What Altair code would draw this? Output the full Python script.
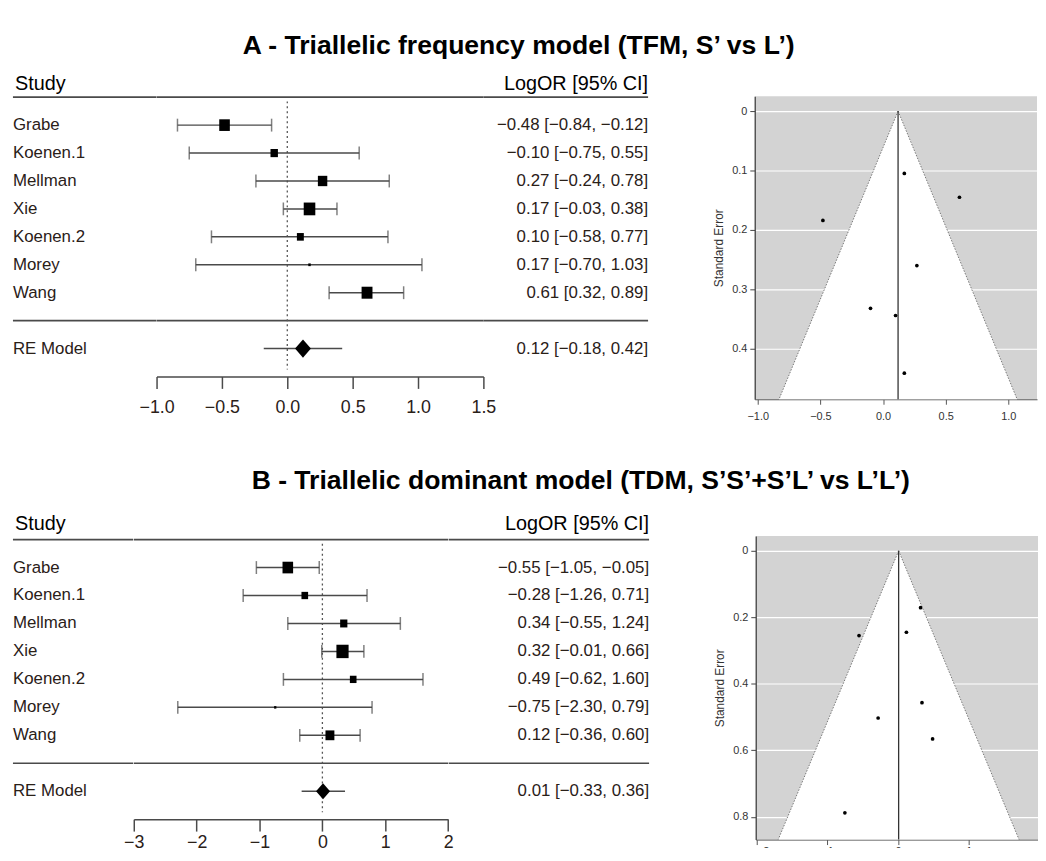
import altair as alt
import pandas as pd

FONT = "Liberation Sans"
TXT = "#2a2018"
LINE = "#4a4a4a"

studies = ["Grabe", "Koenen.1", "Mellman", "Xie", "Koenen.2", "Morey", "Wang"]

# Panel A - TFM
a_est = [-0.48, -0.10, 0.27, 0.17, 0.10, 0.17, 0.61]
a_lo = [-0.84, -0.75, -0.24, -0.03, -0.58, -0.70, 0.32]
a_hi = [-0.12, 0.55, 0.78, 0.38, 0.77, 1.03, 0.89]
a_se = [0.184, 0.332, 0.260, 0.105, 0.344, 0.441, 0.145]
a_weight = [10.7, 7.5, 9.5, 11.7, 7.0, 2.5, 11.0]
a_re = [0.12, -0.18, 0.42]
a_ticks = [-1.0, -0.5, 0.0, 0.5, 1.0, 1.5]
a_funnel_xticks = [-1.0, -0.5, 0.0, 0.5, 1.0]
a_funnel_yticks = [0, 0.1, 0.2, 0.3, 0.4]

# Panel B - TDM
b_est = [-0.55, -0.28, 0.34, 0.32, 0.49, -0.75, 0.12]
b_lo = [-1.05, -1.26, -0.55, -0.01, -0.62, -2.30, -0.36]
b_hi = [-0.05, 0.71, 1.24, 0.66, 1.60, 0.79, 0.60]
b_se = [0.255, 0.503, 0.457, 0.171, 0.566, 0.788, 0.245]
b_weight = [10.7, 6.7, 7.3, 12.3, 6.7, 2.3, 9.0]
b_re = [0.01, -0.33, 0.36]
b_ticks = [-3, -2, -1, 0, 1, 2]
b_funnel_xticks = [-2, -1, 0, 1]
b_funnel_yticks = [0, 0.2, 0.4, 0.6, 0.8]

SQ = "M-1,-1.1L1,-1.1L1,1.1L-1,1.1Z"
DIAMOND = "M0,-1.15L1,0L0,1.15L-1,0Z"


def fmt(v):
    return f"{v:.2f}".replace("-", "\u2212")


def forest_df(est, lo, hi, w, re):
    rows = []
    for i, s in enumerate(studies):
        rows.append(dict(row=i + 1, label=s, est=est[i], lo=lo[i], hi=hi[i], w=w[i],
                         kind="study", txt=f"{fmt(est[i])} [{fmt(lo[i])}, {fmt(hi[i])}]"))
    rows.append(dict(row=len(studies) + 2, label="RE Model", est=re[0], lo=re[1], hi=re[2], w=0,
                     kind="re", txt=f"{fmt(re[0])} [{fmt(re[1])}, {fmt(re[2])}]"))
    return pd.DataFrame(rows)


def forest(df, xdom, xticks, xfmt, wn, wp, wc, H, ydom, dsize, lpad):
    yscale = alt.Scale(domain=ydom, reverse=True, nice=False, zero=False)
    rules = pd.DataFrame({"r": [0, len(studies) + 1]})
    rule_layer = alt.Chart(rules).mark_rule(color=LINE, strokeWidth=1.7).encode(
        y=alt.Y("r:Q", scale=yscale, axis=None))
    base = alt.Chart(df)
    Y = alt.Y("row:Q", scale=yscale, axis=None)

    names = alt.layer(
        rule_layer,
        base.mark_text(align="left", baseline="middle", fontSize=17, font=FONT, color=TXT).encode(
            x=alt.value(0), y=Y, text="label:N"),
    ).properties(width=wn, height=H,
                 title=alt.TitleParams("Study", anchor="start", frame="group", fontSize=20,
                                       fontWeight="normal", font=FONT, color="black", offset=2, dx=2))

    xscale = alt.Scale(domain=xdom, nice=False, zero=False)
    xaxis = alt.Axis(values=xticks, format=xfmt, grid=False, title=None, domainColor=LINE,
                     domainWidth=1.5, tickColor=LINE, tickWidth=1.5, tickSize=12,
                     labelFontSize=18, labelFont=FONT, labelColor=TXT, labelPadding=lpad,
                     labelFlush=False)
    zero = alt.Chart(pd.DataFrame({"x": [0], "y1": [0.15], "y2": [len(studies) + 2.75]})).mark_rule(
        strokeDash=[2, 3], color="#555555", strokeWidth=1.3).encode(
        x=alt.X("x:Q", scale=xscale, axis=xaxis), y=alt.Y("y1:Q", scale=yscale, axis=None), y2="y2:Q")
    ci = base.mark_rule(color=LINE, strokeWidth=1.5).encode(
        x=alt.X("lo:Q", scale=xscale, axis=xaxis), x2="hi:Q", y=Y)
    caps = base.transform_filter("datum.kind == 'study'").transform_fold(["lo", "hi"]).mark_tick(
        orient="vertical", size=13, thickness=1.5, color=LINE).encode(
        x=alt.X("value:Q", scale=xscale, axis=xaxis), y=Y)
    squares = base.transform_filter("datum.kind == 'study'").mark_point(
        shape=SQ, filled=True, opacity=1, color="black", strokeWidth=0).encode(
        x=alt.X("est:Q", scale=xscale, axis=xaxis), y=Y,
        size=alt.Size("w:Q", scale=alt.Scale(type="pow", exponent=2, domain=[0, 12], range=[0, 144]),
                      legend=None))
    diamond = base.transform_filter("datum.kind == 're'").mark_point(
        shape=DIAMOND, filled=True, opacity=1, color="black", strokeWidth=0, size=dsize).encode(
        x=alt.X("est:Q", scale=xscale, axis=xaxis), y=Y)
    plot = alt.layer(rule_layer, zero, ci, caps, squares, diamond).properties(width=wp, height=H)

    cis = alt.layer(
        rule_layer,
        base.mark_text(align="right", baseline="middle", fontSize=17, font=FONT, color=TXT).encode(
            x=alt.value(wc), y=Y, text="txt:N"),
    ).properties(width=wc, height=H,
                 title=alt.TitleParams("LogOR [95% CI]", anchor="end", frame="group", fontSize=20,
                                       fontWeight="normal", font=FONT, color="black", offset=2))
    return alt.hconcat(names, plot, cis, spacing=0, bounds="flush")


def funnel(est, se, re, xdom, ydom, xticks, yticks, xfmt, W, H, xlpad):
    pts = pd.DataFrame({"est": est, "se": se})
    smax = ydom[1]
    tri = pd.DataFrame({"se": [0, smax], "lo": [re, re - 1.96 * smax], "hi": [re, re + 1.96 * smax]})
    edges = pd.DataFrame({"se": [0, smax, 0, smax],
                          "x": [re, re - 1.96 * smax, re, re + 1.96 * smax],
                          "side": ["l", "l", "r", "r"]})
    vline = pd.DataFrame({"x": [re], "s0": [0], "s1": [smax]})
    xscale = alt.Scale(domain=xdom, nice=False, zero=False)
    yscale = alt.Scale(domain=ydom, reverse=True, nice=False, zero=False)
    xaxis = alt.Axis(values=xticks, format=xfmt, grid=False, title=None, domainColor="#555555",
                     tickColor="#555555", tickSize=5, labelFontSize=11, labelFont=FONT,
                     labelColor="#333333", labelPadding=xlpad)
    yaxis = alt.Axis(values=yticks, grid=True, gridColor="white", gridWidth=1.2, domainColor="#444444",
                     domainWidth=1.3, tickColor="#444444", tickSize=5, labelFontSize=11, labelFont=FONT,
                     labelColor="#333333", labelPadding=3,
                     labelExpr="datum.value == 0 ? '0' : format(datum.value, '.1f')",
                     title="Standard Error", titleFont=FONT, titleFontSize=12, titleFontWeight="normal",
                     titleColor="#333333", titlePadding=6)
    area = alt.Chart(tri).mark_area(orient="horizontal", color="white", opacity=1).encode(
        y=alt.Y("se:Q", scale=yscale, axis=yaxis), x=alt.X("lo:Q", scale=xscale, axis=xaxis), x2="hi:Q")
    edge = alt.Chart(edges).mark_line(color="#777777", strokeDash=[1.5, 1.5], strokeWidth=1).encode(
        x=alt.X("x:Q", scale=xscale, axis=xaxis), y=alt.Y("se:Q", scale=yscale, axis=yaxis),
        detail="side:N", order="se:Q")
    vl = alt.Chart(vline).mark_rule(color="#333333", strokeWidth=1.3).encode(
        x=alt.X("x:Q", scale=xscale, axis=xaxis), y=alt.Y("s0:Q", scale=yscale, axis=yaxis), y2="s1:Q")
    dots = alt.Chart(pts).mark_circle(color="black", opacity=1, size=14).encode(
        x=alt.X("est:Q", scale=xscale, axis=xaxis), y=alt.Y("se:Q", scale=yscale, axis=yaxis))
    return alt.layer(area, edge, vl, dots).properties(
        width=W, height=H, view=alt.ViewBackground(fill="#d3d3d3", stroke=None))


def row(title, fdf, fargs, fun, dx, toff, tsize):
    return alt.hconcat(forest(fdf, *fargs), fun, spacing=63,
                       title=alt.TitleParams(title, anchor="start", frame="group", dx=dx, fontSize=tsize,
                                             fontWeight="bold", font=FONT, color="black", offset=toff))


rowA = row("A - Triallelic frequency model (TFM, S\u2019 vs L\u2019)",
           forest_df(a_est, a_lo, a_hi, a_weight, a_re),
           ([-1.0, 1.5], a_ticks, ".1f", 144.7, 330, 166.3, 283, [-0.035, 10], 256, 10),
           funnel(a_est, a_se, a_re[0], [-1.024, 1.229], [-0.025, 0.485], a_funnel_xticks,
                  a_funnel_yticks, ".1f", 285, 306, 6),
           232, 15, 26.8)

rowB = row("B - Triallelic dominant model (TDM, S\u2019S\u2019+S\u2019L\u2019 vs L\u2019L\u2019)",
           forest_df(b_est, b_lo, b_hi, b_weight, b_re),
           ([-3, 2], b_ticks, "d", 121.3, 317.4, 202.3, 286, [-0.13, 10], 200, 3),
           funnel(b_est, b_se, b_re[0], [-2.01, 1.98], [-0.0446, 0.8687], b_funnel_xticks,
                  b_funnel_yticks, "d", 285, 306.6, 1),
           241, 20, 26.8)

chart = alt.vconcat(rowA, rowB, spacing=47).properties(
    padding={"left": 4, "top": 21, "right": 0, "bottom": -13}
).configure_view(stroke=None)

chart.save("out.html", embed_options={"renderer": "svg", "actions": False})
